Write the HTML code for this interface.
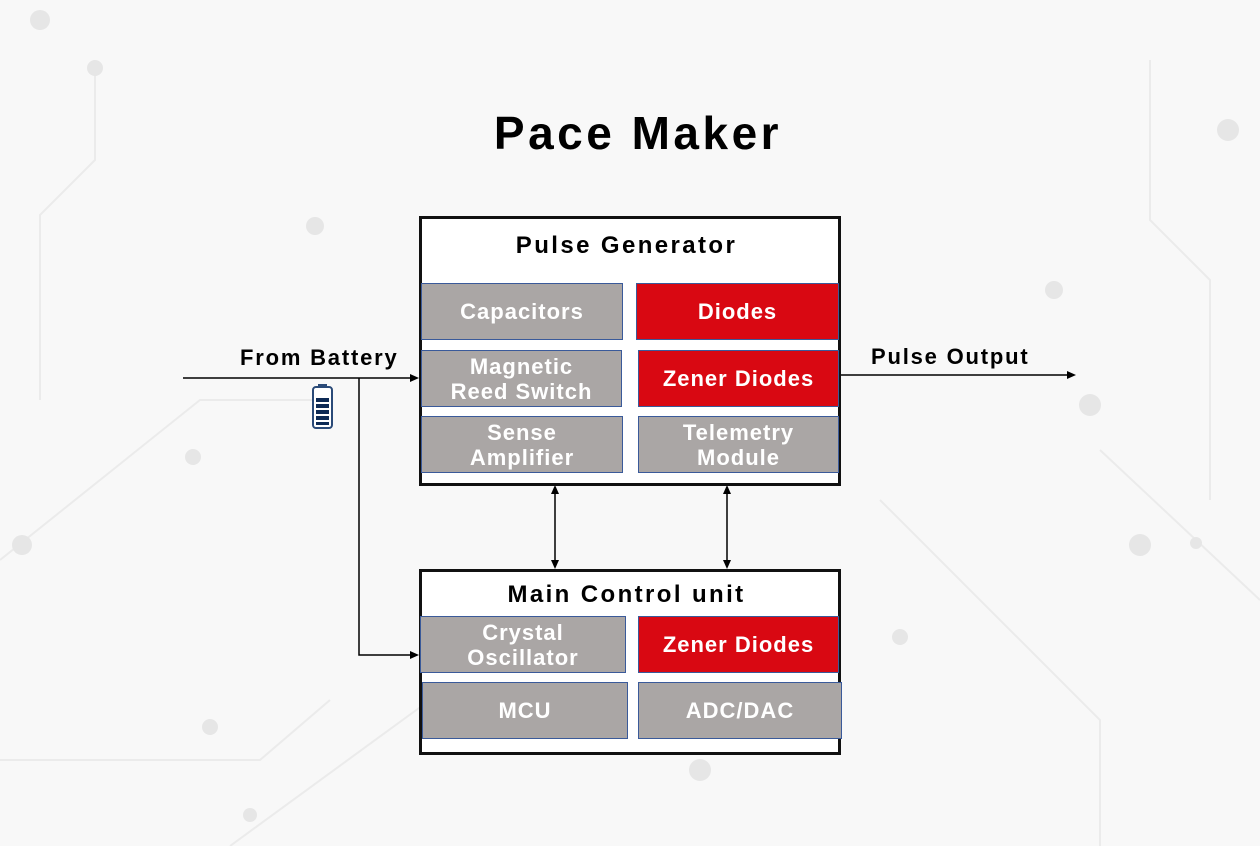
<!DOCTYPE html>
<html><head><meta charset="utf-8"><style>
*{margin:0;padding:0;box-sizing:border-box}
body{width:1260px;height:846px;background:#f8f8f8;position:relative;overflow:hidden;font-family:"Liberation Sans",sans-serif}
.box{position:absolute;border:3px solid #111;background:#fff}
.c{position:absolute;color:#fff;font-size:22px;font-weight:bold;letter-spacing:1px;display:flex;align-items:center;justify-content:center;text-align:center;line-height:25px;border:1px solid #3a5a9a;white-space:nowrap}
.g{background:#aaa6a5}
.r{background:#d90812}
.t{position:absolute;font-weight:bold;color:#000;white-space:nowrap}
</style></head><body>
<svg width="1260" height="846" style="position:absolute;left:0;top:0">
<g stroke="#ebebeb" stroke-width="2" fill="none">
<path d="M95 70 L95 160 L40 215 L40 400"/><path d="M1150 60 L1150 220 L1210 280 L1210 500"/>
<path d="M0 560 L200 400 L320 400"/><path d="M1260 600 L1100 450"/><path d="M880 500 L1100 720 L1100 846"/>
<path d="M0 760 L260 760 L330 700"/><path d="M230 846 L430 700"/>
</g>
<g fill="#e6e6e6"><circle cx="40" cy="20" r="10"/><circle cx="95" cy="68" r="8"/><circle cx="1228" cy="130" r="11"/><circle cx="315" cy="226" r="9"/><circle cx="1054" cy="290" r="9"/><circle cx="1090" cy="405" r="11"/><circle cx="22" cy="545" r="10"/><circle cx="193" cy="457" r="8"/><circle cx="1140" cy="545" r="11"/><circle cx="900" cy="637" r="8"/><circle cx="210" cy="727" r="8"/><circle cx="700" cy="770" r="11"/><circle cx="250" cy="815" r="7"/><circle cx="1196" cy="543" r="6"/></g>
<g stroke="#000" stroke-width="1.5" fill="none">
<line x1="183" y1="378" x2="412" y2="378"/>
<polyline points="359,378 359,655 412,655"/>
<line x1="840" y1="375" x2="1068" y2="375"/>
<line x1="555" y1="492" x2="555" y2="562"/>
<line x1="727" y1="492" x2="727" y2="562"/>
</g>
<g fill="#000">
<polygon points="419,378 410,374 410,382"/><polygon points="419,655 410,651 410,659"/>
<polygon points="1076,375 1067,371 1067,379"/>
<polygon points="555,485 551,494 559,494"/><polygon points="555,569 551,560 559,560"/>
<polygon points="727,485 723,494 731,494"/><polygon points="727,569 723,560 731,560"/>
</g>
<rect x="313" y="387" width="19" height="41" rx="3" fill="#fff" stroke="#2a4a78" stroke-width="2"/>
<rect x="318" y="384" width="9" height="4" fill="#2a4a78"/>
<g fill="#0d2a55"><rect x="316" y="398" width="13" height="4"/><rect x="316" y="404" width="13" height="4"/><rect x="316" y="410" width="13" height="4"/><rect x="316" y="416" width="13" height="4"/><rect x="316" y="422" width="13" height="3"/></g>
</svg>
<div class="t" style="left:0;width:1276px;top:106px;text-align:center;font-size:46px;letter-spacing:3.5px">Pace Maker</div>
<div class="t" style="left:240px;top:345px;font-size:22px;letter-spacing:1.8px">From Battery</div>
<div class="t" style="left:871px;top:344px;font-size:22px;letter-spacing:1.8px">Pulse Output</div>
<div class="box" style="left:419px;top:216px;width:422px;height:270px"></div>
<div class="t" style="left:419px;width:415px;top:232px;text-align:center;font-size:24px;letter-spacing:2.4px">Pulse Generator</div>
<div class="c g" style="left:421px;top:283px;width:202px;height:57px">Capacitors</div>
<div class="c r" style="left:636px;top:283px;width:203px;height:57px">Diodes</div>
<div class="c g" style="left:421px;top:350px;width:201px;height:57px">Magnetic<br>Reed Switch</div>
<div class="c r" style="left:638px;top:350px;width:201px;height:57px">Zener Diodes</div>
<div class="c g" style="left:421px;top:416px;width:202px;height:57px">Sense<br>Amplifier</div>
<div class="c g" style="left:638px;top:416px;width:201px;height:57px">Telemetry<br>Module</div>
<div class="box" style="left:419px;top:569px;width:422px;height:186px"></div>
<div class="t" style="left:419px;width:415px;top:581px;text-align:center;font-size:24px;letter-spacing:2.4px">Main Control unit</div>
<div class="c g" style="left:420px;top:616px;width:206px;height:57px">Crystal<br>Oscillator</div>
<div class="c r" style="left:638px;top:616px;width:201px;height:57px">Zener Diodes</div>
<div class="c g" style="left:422px;top:682px;width:206px;height:57px">MCU</div>
<div class="c g" style="left:638px;top:682px;width:204px;height:57px">ADC/DAC</div>
</body></html>
